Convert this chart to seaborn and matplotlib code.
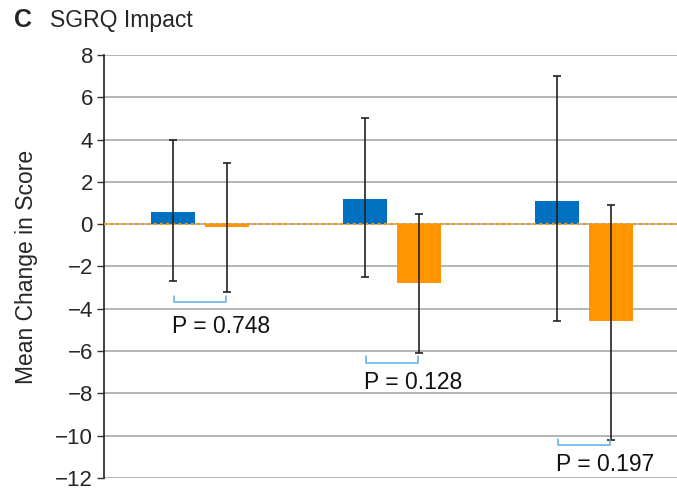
import matplotlib
matplotlib.use("Agg")
import matplotlib.pyplot as plt
import seaborn as sns
import pandas as pd

# SGRQ Impact: mean change in score per visit group, two treatment arms
groups = ["Group 1", "Group 2", "Group 3"]
arms = ["Arm A", "Arm B"]
mean_a = [0.6, 1.2, 1.1]
mean_b = [-0.15, -2.8, -4.6]
upper_a = [4.0, 5.0, 7.0]
lower_a = [-2.7, -2.5, -4.6]
upper_b = [2.9, 0.5, 0.9]
lower_b = [-3.2, -6.1, -10.2]
p_labels = ["P = 0.748", "P = 0.128", "P = 0.197"]
bracket_y = [-3.7, -6.55, -10.45]
p_text_y = [-4.85, -7.5, -11.35]

colors = ["#0070C0", "#FF9500"]

df = pd.DataFrame({
    "group": groups * 2,
    "arm": [arms[0]] * 3 + [arms[1]] * 3,
    "value": mean_a + mean_b,
})

sns.set_style("white")
plt.rcParams["font.family"] = ["Liberation Sans", "DejaVu Sans"]

FS = 16.5

fig = plt.figure(figsize=(6.77, 4.93), dpi=100)
ax = fig.add_axes([104 / 677, 15 / 493, 576 / 677, 423 / 493])

sns.barplot(data=df, x="group", y="value", hue="arm", palette=colors,
            width=0.572, gap=0.2, errorbar=None, legend=False, ax=ax,
            saturation=1, linewidth=0, zorder=3)

ax.set_xlim(-0.5, 2.5)
ax.set_ylim(-12, 8)
ax.set_yticks(range(-12, 9, 2))
ax.set_yticklabels([f"{v}".replace("-", "\u2212") for v in range(-12, 9, 2)])
ax.yaxis.grid(True, color="#a0a0a0", linewidth=1.1, zorder=0)
ax.set_axisbelow(True)
ax.set_xticks([])
ax.set_xlabel("")
ax.set_ylabel("Mean Change in Score", fontsize=FS, labelpad=12)
ax.tick_params(axis="y", which="both", left=True, length=5, width=1,
               color="#333333", labelsize=16, pad=3)
for side in ["top", "right", "bottom"]:
    ax.spines[side].set_visible(False)
ax.spines["left"].set_color("#222222")
ax.spines["left"].set_linewidth(1.2)

# zero reference line
ax.axhline(0, color="#FF9500", linestyle=(0, (1.2, 1.6)), linewidth=1.6, zorder=4)

# error bars and P-value brackets per group
cont_a, cont_b = ax.containers[0], ax.containers[1]
for i in range(len(groups)):
    xa = cont_a[i].get_x() + cont_a[i].get_width() / 2
    xb = cont_b[i].get_x() + cont_b[i].get_width() / 2
    for x, m, lo, hi in [(xa, mean_a[i], lower_a[i], upper_a[i]),
                         (xb, mean_b[i], lower_b[i], upper_b[i])]:
        ax.errorbar(x, m, yerr=[[m - lo], [hi - m]], fmt="none",
                    ecolor="#222222", elinewidth=1.2, capsize=2.6,
                    capthick=1.2, zorder=5)
    by = bracket_y[i]
    ax.plot([xa + 0.01, xa + 0.01, xb - 0.01, xb - 0.01],
            [by + 0.3, by, by, by + 0.3],
            color="#5DAEE3", linewidth=1.1, zorder=5, clip_on=False)
    ax.text(xa - 0.005, p_text_y[i], p_labels[i], fontsize=FS,
            ha="left", va="center", color="#111111", zorder=6)

fig.text(14 / 677, 1 - 20 / 493, "C", fontsize=18, fontweight="bold",
         ha="left", va="center")
fig.text(50 / 677, 1 - 20 / 493, "SGRQ Impact", fontsize=FS,
         ha="left", va="center")

fig.savefig("out.png", dpi=100)
